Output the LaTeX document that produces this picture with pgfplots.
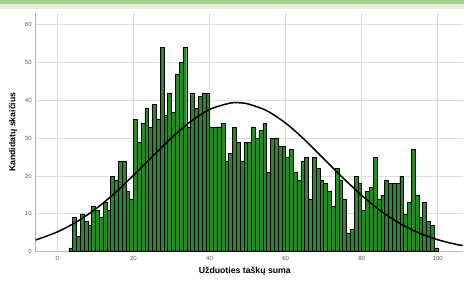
\documentclass[border=0pt]{standalone}
\usepackage{pgfplots}
\pgfplotsset{compat=1.18}
\usepackage{fontspec}
\setmainfont{Liberation Sans}
\definecolor{barg}{RGB}{38,138,38}
\definecolor{topg}{RGB}{169,209,142}
\definecolor{lightg}{RGB}{226,239,218}
\definecolor{gridc}{RGB}{222,222,222}
\definecolor{tickc}{RGB}{90,90,90}
\begin{document}
\begin{tikzpicture}[x=1pt,y=1pt]
\useasboundingbox (0,0) rectangle (464,281);
\fill[white] (0,0) rectangle (464,281);
\fill[lightg] (0,272.3) rectangle (464,277.3);
\fill[topg] (0,277.3) rectangle (464,281);
\begin{axis}[
  at={(35.7pt,29.3pt)}, anchor=south west,
  scale only axis, width=426.8pt, height=239pt,
  xmin=-5.7, xmax=106.5, ymin=0, ymax=63.2,
  xtick={0,20,40,60,80,100}, ytick={0,10,20,30,40,50,60},
  grid=major, major grid style={draw=gridc, line width=0.8pt},
  major tick length=0pt,
  axis x line*=bottom, axis y line*=left,
  x axis line style={draw=gray!55, line width=0.8pt, -},
  y axis line style={draw=gray!60, line width=1.3pt, -},
  /pgf/number format/assume math mode=true,
  tick label style={font=\fontsize{6}{7}\selectfont, text=tickc},
  xticklabel style={yshift=-1pt},
  yticklabel style={xshift=-0.5pt},
  xlabel={Užduoties taškų suma},
  ylabel={Kandidatų skaičius},
  label style={font=\fontsize{8.7}{10}\selectfont\bfseries},
  xlabel style={at={(axis description cs:0.49,0)}, anchor=center, yshift=-19pt},
  ylabel style={at={(axis description cs:-0.0532,0.50)}, anchor=center},
]
\addplot[ybar interval, fill=barg, draw=black, line width=0.4pt] coordinates {
(3,1) (4,9) (5,4) (6,10) (7,8) (8,7) (9,12) (10,11) (11,9) (12,13)
(13,11) (14,20) (15,19) (16,24) (17,24) (18,16) (19,14) (20,35) (21,29) (22,34)
(23,38) (24,33) (25,39) (26,35) (27,54) (28,36) (29,42) (30,37) (31,47) (32,50)
(33,54) (34,33) (35,42) (36,38) (37,41) (38,42) (39,42) (40,33) (41,33) (42,33)
(43,34) (44,24) (45,26) (46,33) (47,29) (48,24) (49,29) (50,29) (51,33) (52,30)
(53,32) (54,34) (55,21) (56,30) (57,30) (58,28) (59,28) (60,25) (61,27) (62,21)
(63,19) (64,24) (65,25) (66,14) (67,25) (68,22) (69,19) (70,18) (71,16) (72,12)
(73,22) (74,19) (75,14) (76,5) (77,6) (78,20) (79,18) (80,11) (81,16) (82,17)
(83,25) (84,14) (85,15) (86,19) (87,18) (88,18) (89,18) (90,20) (91,10) (92,13)
(93,27) (94,15) (95,9) (96,13) (97,8) (98,7) (99,1) (100,1)
};
\addplot[black, line width=1.5pt, smooth] coordinates {
(-6,3.04) (-5,3.34) (0,5.24) (5,7.86) (10,11.25) (15,15.4) (20,20.2) (25,25.2)
(30,30.1) (35,34.4) (40,37.6) (45,39.2) (47.2,39.4) (50,39.1) (55,37.3) (60,34.0)
(65,29.6) (70,24.6) (75,19.6) (80,14.9) (85,10.8) (90,7.5) (95,4.98) (100,3.16)
(105,1.91) (107,1.6)
};
\end{axis}
\end{tikzpicture}
\end{document}
